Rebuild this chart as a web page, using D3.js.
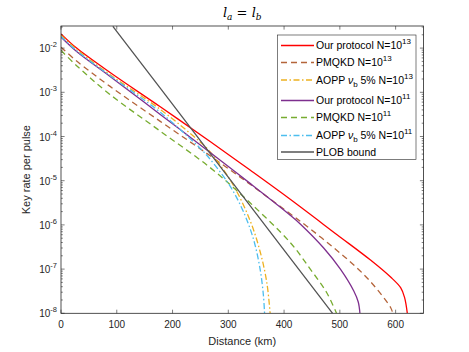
<!DOCTYPE html>
<html>
<head>
<meta charset="utf-8">
<script src="https://cdn.jsdelivr.net/npm/d3@7"></script>
<style>
  body { margin: 0; background: #fff; }
  svg { font-family: "Liberation Sans", Arial, sans-serif; }
</style>
</head>
<body>
<div id="chart"></div>
<script>
// Key rate data (distance in km, rate per pulse)
var ourN13Dist = [0, 28, 88, 178, 268, 339, 411, 495, 555, 591, 609, 616, 621];
var ourN13Rate = [2.1e-2, 1.0e-2, 2.8e-3, 4.7e-4, 7.6e-5, 1.74e-5, 3.8e-6, 6.0e-7, 1.6e-7, 6.6e-8, 3.8e-8, 2.3e-8, 1.0e-8];

var pmN13Dist = [0, 28, 88, 178, 262, 339, 411, 445, 483, 519, 555, 591, 595];
var pmN13Rate = [1.05e-2, 5.1e-3, 1.36e-3, 2.2e-4, 4.1e-5, 8.3e-6, 1.78e-6, 8.5e-7, 3.5e-7, 1.45e-7, 5.2e-8, 1.35e-8, 1.0e-8];

var aoppN13Dist = [0, 28, 88, 178, 249, 268, 309, 339, 357, 369, 375];
var aoppN13Rate = [1.96e-2, 9.3e-3, 2.5e-3, 4.1e-4, 7.6e-5, 4.4e-5, 7.9e-6, 1.26e-6, 2.5e-7, 5.0e-8, 1.0e-8];

var ourN11Dist = [0, 28, 88, 178, 268, 339, 411, 429, 471, 501, 525, 533, 536];
var ourN11Rate = [1.78e-2, 8.4e-3, 2.29e-3, 3.16e-4, 4.27e-5, 8.7e-6, 1.66e-6, 1.05e-6, 3.0e-7, 1.0e-7, 3.2e-8, 1.8e-8, 1.0e-8];

var pmN11Dist = [0, 28, 88, 178, 268, 339, 411, 447, 476, 494];
var pmN11Rate = [8.9e-3, 4.0e-3, 8.9e-4, 1.32e-4, 1.95e-5, 3.16e-6, 4.0e-7, 1.0e-7, 3.0e-8, 1.0e-8];

var aoppN11Dist = [0, 28, 88, 178, 249, 268, 303, 327, 345, 357, 363, 365];
var aoppN11Rate = [1.84e-2, 8.7e-3, 2.38e-3, 3.52e-4, 5.5e-5, 3.0e-5, 7.6e-6, 2.0e-6, 4.8e-7, 1.0e-7, 2.5e-8, 1.0e-8];

var plobDist = [93, 180, 267, 411, 487];
var plobRate = [3.1e-2, 1.15e-3, 4.2e-5, 1.78e-7, 1.0e-8];

var xTicks = [0, 100, 200, 300, 400, 500, 600];
var yExponents = [-8, -7, -6, -5, -4, -3, -2];

var series = [
  { name: 'Our protocol', n: '13', dist: ourN13Dist, rate: ourN13Rate, color: '#ff0000', dash: null, curve: true },
  { name: 'PMQKD', n: '13', dist: pmN13Dist, rate: pmN13Rate, color: '#b4643a', dash: '6,4', curve: true },
  { name: 'AOPP', n: '13', dist: aoppN13Dist, rate: aoppN13Rate, color: '#edb120', dash: '6,2.5,1.5,2.5', curve: true, nu: true },
  { name: 'Our protocol', n: '11', dist: ourN11Dist, rate: ourN11Rate, color: '#7e2f8e', dash: null, curve: true },
  { name: 'PMQKD', n: '11', dist: pmN11Dist, rate: pmN11Rate, color: '#77ac30', dash: '6,4', curve: true },
  { name: 'AOPP', n: '11', dist: aoppN11Dist, rate: aoppN11Rate, color: '#4dbeee', dash: '6,2.5,1.5,2.5', curve: true, nu: true },
  { name: 'PLOB bound', n: null, dist: plobDist, rate: plobRate, color: '#555555', dash: null, curve: false }
];

var width = 469, height = 352;
var plotLeft = 61, plotRight = 423.5, plotTop = 26, plotBottom = 313.3;
var axisColor = '#262626';

var svg = d3.select('#chart').append('svg')
  .attr('width', width)
  .attr('height', height);

var x = d3.scaleLinear().domain([0, 650]).range([plotLeft, plotRight]);
var y = d3.scaleLog().domain([1e-8, Math.pow(10, -1.5)]).range([plotBottom, plotTop]);

svg.append('clipPath').attr('id', 'plotclip')
  .append('rect')
  .attr('x', plotLeft).attr('y', plotTop)
  .attr('width', plotRight - plotLeft).attr('height', plotBottom - plotTop);

// Curves
var plot = svg.append('g').attr('clip-path', 'url(#plotclip)');
series.forEach(function (s) {
  var pts = s.dist.map(function (d, i) { return [d, s.rate[i]]; });
  var line = d3.line()
    .x(function (p) { return x(p[0]); })
    .y(function (p) { return y(p[1]); })
    .curve(s.curve ? d3.curveCatmullRom.alpha(0.5) : d3.curveLinear);
  plot.append('path')
    .attr('d', line(pts))
    .attr('fill', 'none')
    .attr('stroke', s.color)
    .attr('stroke-width', 1.3)
    .attr('stroke-dasharray', s.dash);
});

// Box and ticks (MATLAB style, ticks inside on all four sides)
var axes = svg.append('g');
axes.append('rect')
  .attr('x', plotLeft).attr('y', plotTop)
  .attr('width', plotRight - plotLeft).attr('height', plotBottom - plotTop)
  .attr('fill', 'none')
  .attr('stroke', axisColor)
  .attr('stroke-width', 0.8);

xTicks.forEach(function (t) {
  axes.append('line').attr('x1', x(t)).attr('x2', x(t)).attr('y1', plotBottom).attr('y2', plotBottom - 3.6)
    .attr('stroke', axisColor).attr('stroke-width', 0.6);
  axes.append('line').attr('x1', x(t)).attr('x2', x(t)).attr('y1', plotTop).attr('y2', plotTop + 3.6)
    .attr('stroke', axisColor).attr('stroke-width', 0.6);
  axes.append('text')
    .attr('x', x(t)).attr('y', plotBottom + 15)
    .attr('text-anchor', 'middle')
    .attr('font-size', 10)
    .attr('fill', axisColor)
    .text(t);
});

// log ticks: majors + minors
var logTicks = [];
for (var e = -8; e <= -2; e++) {
  for (var m = 1; m <= 9; m++) {
    var v = m * Math.pow(10, e);
    if (v <= Math.pow(10, -1.5)) logTicks.push({ v: v, major: m === 1 });
  }
}
logTicks.forEach(function (t) {
  var len = t.major ? 3.6 : 1.8;
  axes.append('line').attr('x1', plotLeft).attr('x2', plotLeft + len).attr('y1', y(t.v)).attr('y2', y(t.v))
    .attr('stroke', axisColor).attr('stroke-width', 0.6);
  axes.append('line').attr('x1', plotRight).attr('x2', plotRight - len).attr('y1', y(t.v)).attr('y2', y(t.v))
    .attr('stroke', axisColor).attr('stroke-width', 0.6);
});

yExponents.forEach(function (e) {
  var txt = axes.append('text')
    .attr('x', plotLeft - 4).attr('y', y(Math.pow(10, e)) + 4)
    .attr('text-anchor', 'end')
    .attr('font-size', 10)
    .attr('fill', axisColor);
  txt.append('tspan').text('10');
  txt.append('tspan').attr('dy', -5).attr('font-size', 7.5).text(e);
});

// Axis labels
svg.append('text')
  .attr('x', (plotLeft + plotRight) / 2).attr('y', 345)
  .attr('text-anchor', 'middle')
  .attr('font-size', 11)
  .attr('fill', axisColor)
  .text('Distance (km)');

svg.append('text')
  .attr('transform', 'translate(30,' + ((plotTop + plotBottom) / 2) + ') rotate(-90)')
  .attr('text-anchor', 'middle')
  .attr('font-size', 11)
  .attr('fill', axisColor)
  .text('Key rate per pulse');

// Title l_a = l_b
var title = svg.append('text')
  .attr('x', (plotLeft + plotRight) / 2).attr('y', 17)
  .attr('text-anchor', 'middle')
  .attr('font-family', '"DejaVu Serif", "Liberation Serif", serif')
  .attr('font-size', 13)
  .attr('fill', '#000');
title.append('tspan').attr('font-style', 'italic').text('l');
title.append('tspan').attr('font-style', 'italic').attr('font-size', 9).attr('dy', 3).text('a');
title.append('tspan').attr('dy', -3).text(' = ');
title.append('tspan').attr('font-style', 'italic').text('l');
title.append('tspan').attr('font-style', 'italic').attr('font-size', 9).attr('dy', 3).text('b');

// Legend
var legX = 277.5, legY = 35, legW = 138.5, legH = 124.5;
var rowY = [45.5, 62.5, 80, 100.5, 117.5, 135.5, 152];
var legend = svg.append('g');
legend.append('rect')
  .attr('x', legX).attr('y', legY)
  .attr('width', legW).attr('height', legH)
  .attr('fill', '#fff')
  .attr('stroke', axisColor)
  .attr('stroke-width', 0.6);

series.forEach(function (s, i) {
  var ry = rowY[i];
  legend.append('line')
    .attr('x1', 281).attr('x2', 314)
    .attr('y1', ry).attr('y2', ry)
    .attr('stroke', s.color)
    .attr('stroke-width', 1.3)
    .attr('stroke-dasharray', s.dash);
  var t = legend.append('text')
    .attr('x', 316).attr('y', ry + 3.8)
    .attr('font-size', 10.5)
    .attr('fill', '#000');
  if (s.n === null) {
    t.text(s.name);
    return;
  }
  if (s.nu) {
    t.append('tspan').text(s.name + ' ');
    t.append('tspan').attr('font-style', 'italic').text('\u03bd');
    t.append('tspan').attr('dy', 3).attr('font-size', 8).text('b');
    t.append('tspan').attr('dy', -3).text(' 5% N=10');
  } else {
    t.append('tspan').text(s.name + ' N=10');
  }
  t.append('tspan').attr('dy', -5).attr('font-size', 8).text(s.n);
});
</script>
</body>
</html>
